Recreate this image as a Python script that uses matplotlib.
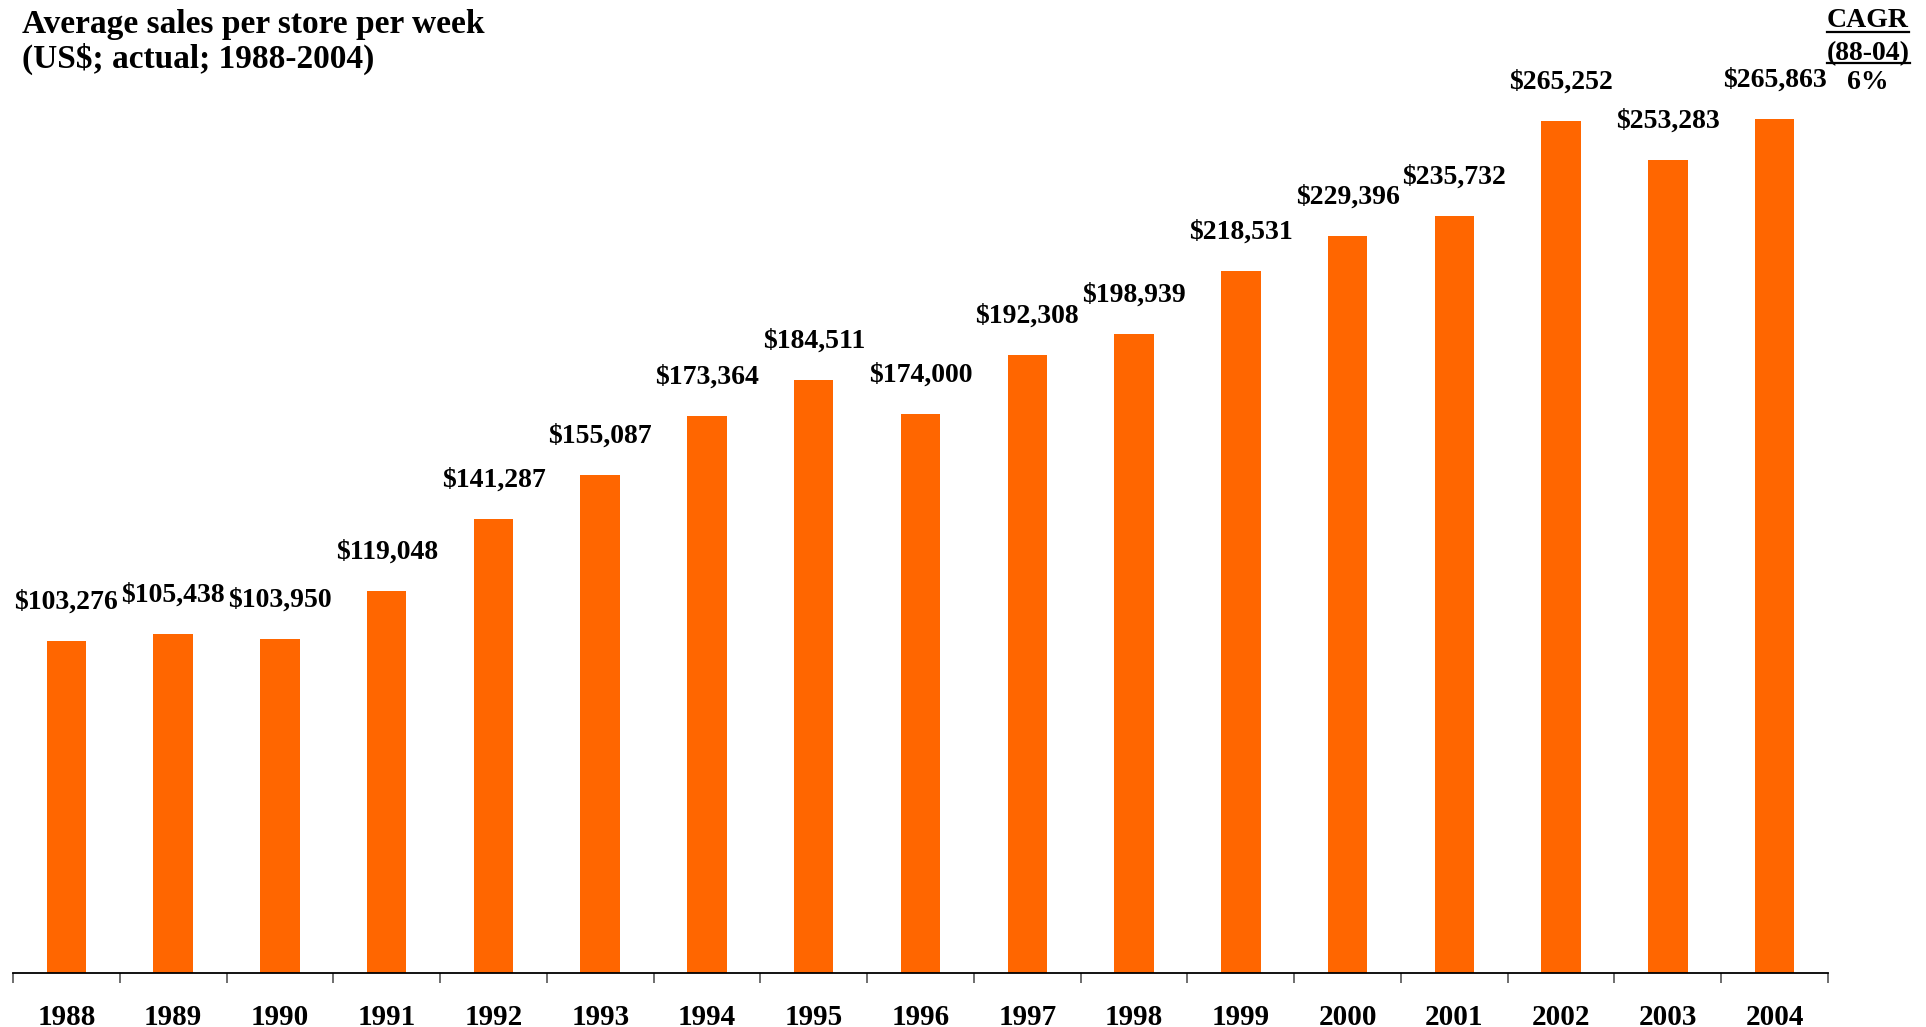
import matplotlib
matplotlib.use('Agg')
import matplotlib.pyplot as plt
from matplotlib.lines import Line2D

# Data
years = ['1988', '1989', '1990', '1991', '1992', '1993', '1994', '1995', '1996',
         '1997', '1998', '1999', '2000', '2001', '2002', '2003', '2004']
sales = [103276, 105438, 103950, 119048, 141287, 155087, 173364, 184511, 174000,
         192308, 198939, 218531, 229396, 235732, 265252, 253283, 265863]
title_lines = ['Average sales per store per week', '(US$; actual; 1988-2004)']
cagr_head = ['CAGR', '(88-04)']
cagr_value = '6%'

ORANGE = '#FF6600'
FONT = 'Liberation Serif'

plt.rcParams['font.family'] = FONT
plt.rcParams['font.weight'] = 'bold'

W, H = 1926, 1027
fig = plt.figure(figsize=(W / 100, H / 100), dpi=100)
ax = fig.add_axes([13 / W, (H - 973) / H, (1828 - 13) / W, 973 / H])

x = list(range(len(years)))
ax.bar(x, sales, width=0.37, color=ORANGE)
ax.set_xlim(-0.5, len(years) - 0.5)
ax.set_ylim(0, 303000)

for xi, v in zip(x, sales):
    ax.annotate(f'${v:,}', (xi, v), xytext=(0, 19), textcoords='offset points',
                ha='center', va='bottom', fontsize=20, fontweight='bold')

for s in ['top', 'right', 'left']:
    ax.spines[s].set_visible(False)
ax.spines['bottom'].set_linewidth(1.3)
ax.set_yticks([])
ax.set_xticks(x)
ax.set_xticklabels(years, fontsize=21, fontweight='bold')
ax.tick_params(axis='x', which='major', length=0, pad=22)
ax.set_xticks([i - 0.5 for i in range(len(years) + 1)], minor=True)
ax.tick_params(axis='x', which='minor', length=7, width=1.2, color='#555555')

fig.text(22 / W, 1 - 9 / H, '\n'.join(title_lines), ha='left', va='top',
         fontsize=24, fontweight='bold', linespacing=1.12)

# CAGR block, top right, with underlined headings
cx = 1868 / W
heads = []
for txt, yb in zip(cagr_head, [27, 60]):
    heads.append(fig.text(cx, 1 - yb / H, txt, ha='center', va='baseline',
                          fontsize=20, fontweight='bold'))
fig.text(cx, 1 - 89 / H, cagr_value, ha='center', va='baseline',
         fontsize=20, fontweight='bold')

fig.canvas.draw()
r = fig.canvas.get_renderer()
for t, yl in zip(heads, [32, 63]):
    bb = t.get_window_extent(r)
    fig.add_artist(Line2D([bb.x0 / W, bb.x1 / W], [1 - yl / H, 1 - yl / H],
                          transform=fig.transFigure, color='black', lw=1.6))

fig.savefig('out.png', dpi=100)
